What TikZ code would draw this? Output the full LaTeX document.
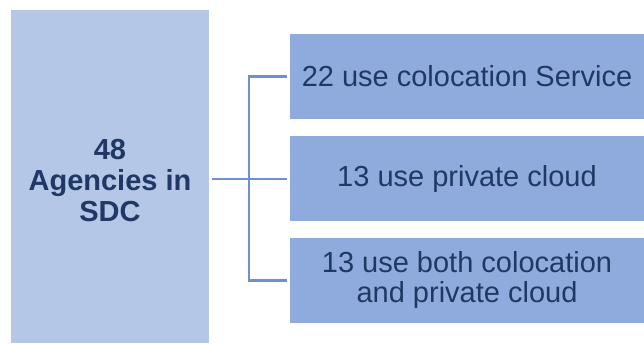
\documentclass[tikz,border=0pt]{standalone}
\usepackage{fontspec}
\setmainfont{Liberation Sans}
\usetikzlibrary{positioning}
\definecolor{agencyfill}{HTML}{B4C7E7}
\definecolor{usefill}{HTML}{8FAADC}
\definecolor{labeltext}{HTML}{203864}
\definecolor{linkline}{HTML}{6F8FD4}
\tikzset{
    sdc diagram/.style = {x=1pt, y=-1pt},
    link/.style        = {draw=linkline, line width=2.4pt},
    agency/.style      = {fill=agencyfill, text=labeltext, align=center,
                          font=\fontsize{29}{31}\selectfont\bfseries,
                          minimum width=198pt, minimum height=333pt,
                          inner xsep=0pt, inner ysep=0pt},
    usebox/.style      = {fill=usefill, text=labeltext, align=center,
                          font=\fontsize{29}{30}\selectfont,
                          minimum width=354pt, minimum height=85pt,
                          inner sep=0pt}
}

\begin{document}
\begin{tikzpicture}[sdc diagram]
\useasboundingbox (0,0) rectangle (644,343);

% Agencies block on the left
\node[agency] (sdc) at (110,176.5) {\\[-3pt]48\\Agencies in\\SDC};

% Service usage stack on the right
\node[usebox] (colo) at (467,76.5) {22 use colocation Service};
\node[usebox, below=17pt of colo] (priv) {13 use private cloud};
\node[usebox, below=16pt of priv] (both)
    {13 use both colocation\\and private cloud};

% Bracket connector
\coordinate (fork) at (249,179);
\draw[link, shorten <=3pt, shorten >=3pt] (sdc.east |- priv.west) -- (priv.west);
\draw[link, shorten >=3pt] (fork) |- (colo.west);
\draw[link, shorten >=3pt] (fork) |- (both.west);

\end{tikzpicture}
\end{document}
